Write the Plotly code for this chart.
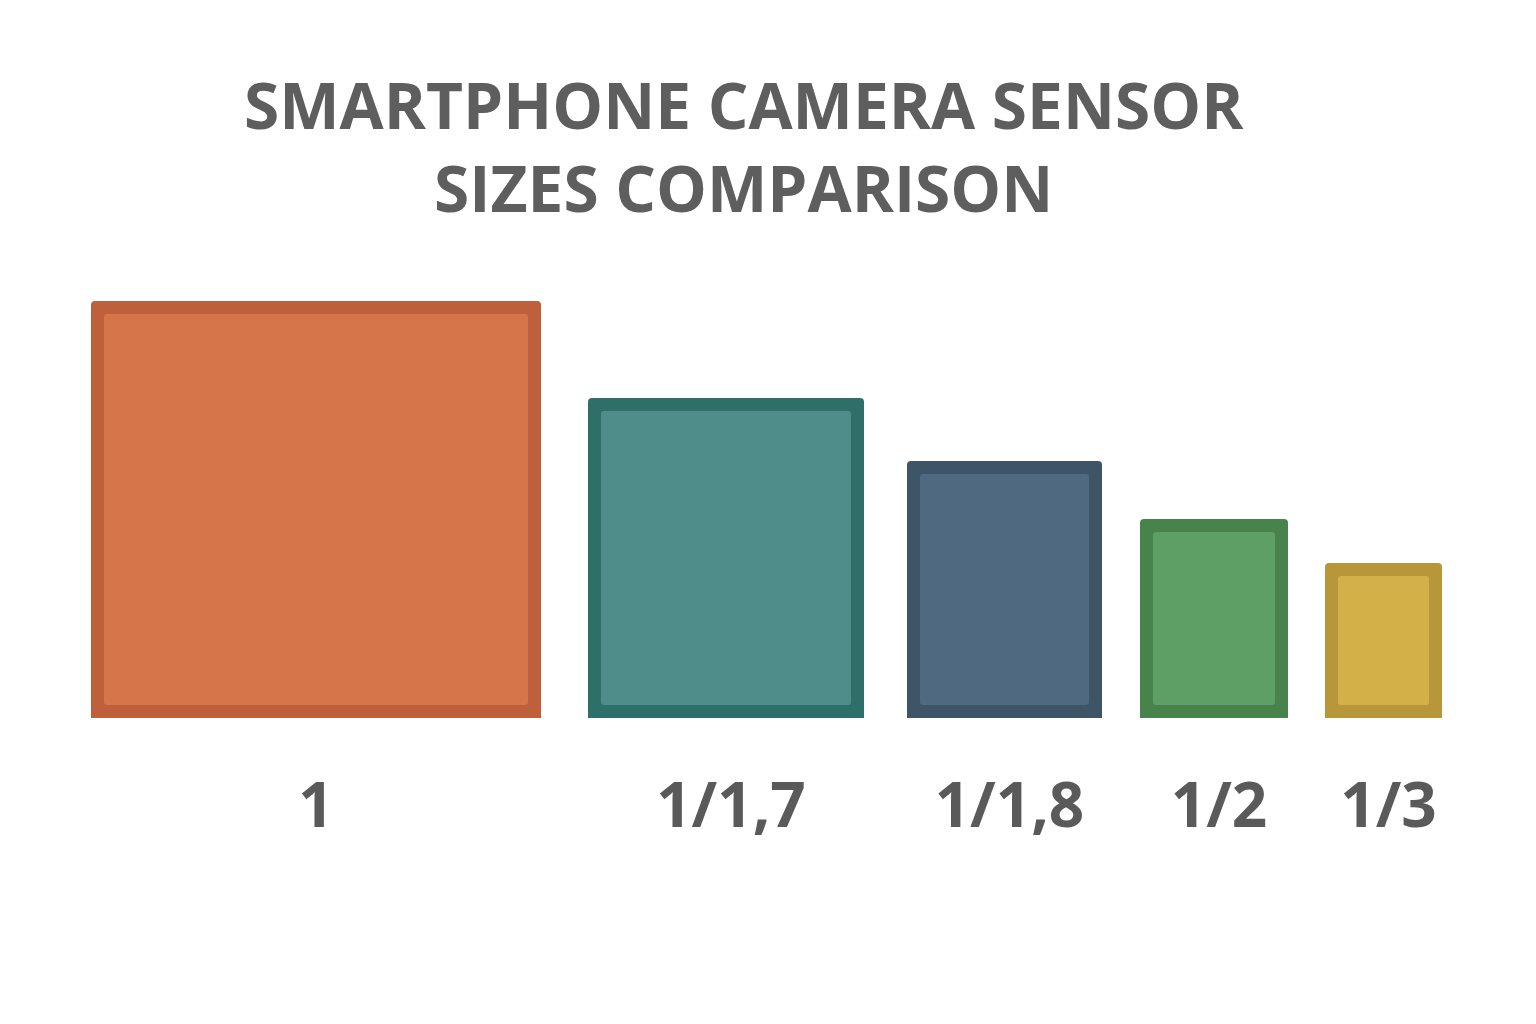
import numpy as np
import plotly.graph_objects as go

# Data (relative sensor outline sizes)
labels = ["1", "1/1,7", "1/1,8", "1/2", "1/3"]
widths = [450, 276, 195, 148, 117]
heights = [417, 320, 257, 199, 155]
title_text = "SMARTPHONE CAMERA SENSOR<br>SIZES COMPARISON"

# Styling
outer_colors = ["#BE603B", "#2F6F69", "#3E5467", "#47834B", "#B8963A"]
inner_colors = ["#D6744A", "#4E8D89", "#4F6A80", "#5E9F65", "#D3B048"]
GAPS = [47, 43, 38, 37]
START = 91
BORDER = 13
OFF = 8  # page offset of the figure div
PLOT_TOP, PLOT_BOTTOM = 250, 718

lefts = [START]
for w, g in zip(widths[:-1], GAPS):
    lefts.append(lefts[-1] + w + g)
centers = [l + w / 2 for l, w in zip(lefts, widths)]

fig = go.Figure()
fig.add_trace(go.Bar(
    x=centers, y=heights, width=widths,
    marker=dict(color=outer_colors, cornerradius=4, line=dict(width=0)),
    hoverinfo="skip", showlegend=False,
))
fig.add_trace(go.Bar(
    x=centers, y=[h - 2 * BORDER for h in heights],
    base=[BORDER] * len(heights),
    width=[w - 2 * BORDER for w in widths],
    marker=dict(color=inner_colors, cornerradius=3, line=dict(width=0)),
    hoverinfo="skip", showlegend=False,
))

FONT = "Open Sans"
title_font = dict(family=FONT, size=64, color="#5E5E5E", weight="bold")


def paper_y(page_y):
    return (PLOT_BOTTOM - page_y) / (PLOT_BOTTOM - PLOT_TOP)


fig.add_annotation(
    text=title_text, x=744, xref="x", y=paper_y(146), yref="paper",
    xanchor="center", yanchor="middle", align="center", showarrow=False,
    font=title_font,
)

fig.update_layout(
    width=1536, height=1024,
    barmode="overlay",
    paper_bgcolor="white", plot_bgcolor="white",
    margin=dict(l=0, r=0, t=PLOT_TOP - OFF, b=1024 - PLOT_BOTTOM + OFF),
    xaxis=dict(
        range=[OFF, 1536 + OFF], showgrid=False, zeroline=False, showline=False,
        tickmode="array", tickvals=[centers[0]] + [c + 5 for c in centers[1:]],
        ticktext=labels, ticks="",
        tickfont=dict(family=FONT, size=62, color="#5A5A5A", weight="bold"),
        ticklabelstandoff=46, fixedrange=True,
    ),
    yaxis=dict(range=[0, 468], showgrid=False, zeroline=False, showline=False,
               showticklabels=False, fixedrange=True),
)

fig.write_html("out.html")
